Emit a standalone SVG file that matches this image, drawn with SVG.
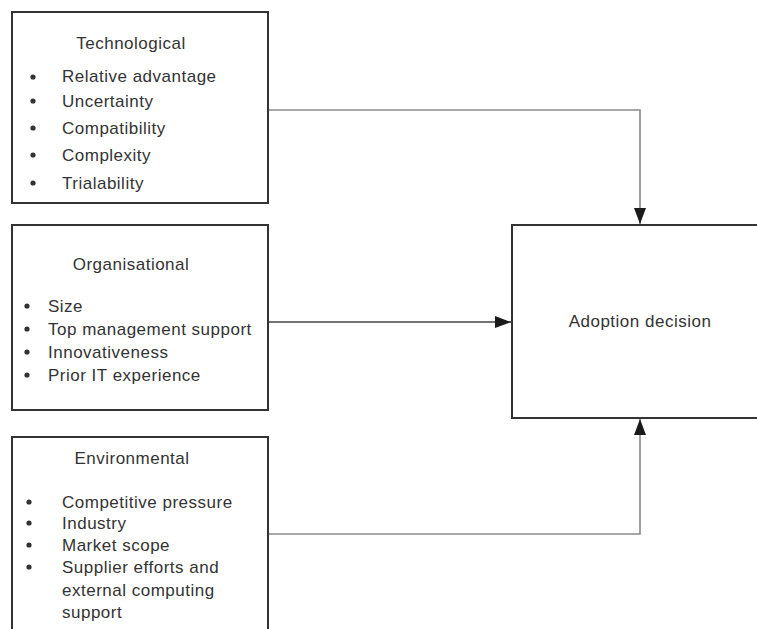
<svg xmlns="http://www.w3.org/2000/svg" width="757" height="629" viewBox="0 0 757 629">
<defs>
<style>
.box{fill:#fff;stroke:#333;stroke-width:2}
.t{font-family:"Liberation Sans",Arial,sans-serif;font-size:17px;fill:#333;letter-spacing:0.5px}
.c{text-anchor:middle}
.conn{fill:none;stroke-width:1.6}
.dot{fill:#333}
</style>
<marker id="ah" viewBox="0 0 16 12" refX="16" refY="6" markerWidth="16" markerHeight="12" markerUnits="userSpaceOnUse" orient="auto">
<path d="M0,0 L16,6 L0,12 Z" fill="#1a1a1a"/>
</marker>
</defs>
<rect width="757" height="629" fill="#fff"/>
<g id="connectors">
<path class="conn" stroke="#8a8a8a" d="M268,110 H640 V224" marker-end="url(#ah)"/>
<path class="conn" stroke="#444" d="M268,322 H511" marker-end="url(#ah)"/>
<path class="conn" stroke="#8a8a8a" d="M268,534 H640 V419" marker-end="url(#ah)"/>
</g>
<g id="technological">
<rect class="box" x="12" y="12" width="256" height="191"/>
<text class="t c" x="131" y="49">Technological</text>
<circle class="dot" cx="33" cy="77" r="2.6"/>
<circle class="dot" cx="33" cy="101" r="2.6"/>
<circle class="dot" cx="33" cy="128" r="2.6"/>
<circle class="dot" cx="33" cy="155" r="2.6"/>
<circle class="dot" cx="33" cy="183" r="2.6"/>
<text class="t" x="62" y="82">Relative advantage</text>
<text class="t" x="62" y="107">Uncertainty</text>
<text class="t" x="62" y="134">Compatibility</text>
<text class="t" x="62" y="161">Complexity</text>
<text class="t" x="62" y="189">Trialability</text>
</g>
<g id="organisational">
<rect class="box" x="12" y="225" width="256" height="185"/>
<text class="t c" x="131" y="270">Organisational</text>
<circle class="dot" cx="27" cy="306" r="2.6"/>
<circle class="dot" cx="27" cy="329" r="2.6"/>
<circle class="dot" cx="27" cy="352" r="2.6"/>
<circle class="dot" cx="27" cy="375" r="2.6"/>
<text class="t" x="48" y="312">Size</text>
<text class="t" x="48" y="335">Top management support</text>
<text class="t" x="48" y="358">Innovativeness</text>
<text class="t" x="48" y="381">Prior IT experience</text>
</g>
<g id="environmental">
<rect class="box" x="12" y="437" width="256" height="210"/>
<text class="t c" x="132" y="464">Environmental</text>
<circle class="dot" cx="29" cy="502" r="2.6"/>
<circle class="dot" cx="29" cy="523" r="2.6"/>
<circle class="dot" cx="29" cy="545" r="2.6"/>
<circle class="dot" cx="29" cy="567" r="2.6"/>
<text class="t" x="62" y="508">Competitive pressure</text>
<text class="t" x="62" y="529">Industry</text>
<text class="t" x="62" y="551">Market scope</text>
<text class="t" x="62" y="573">Supplier efforts and</text>
<text class="t" x="62" y="596">external computing</text>
<text class="t" x="62" y="618">support</text>
</g>
<g id="adoption">
<rect class="box" x="512" y="225" width="260" height="193"/>
<text class="t c" x="640" y="327">Adoption decision</text>
</g>
</svg>
